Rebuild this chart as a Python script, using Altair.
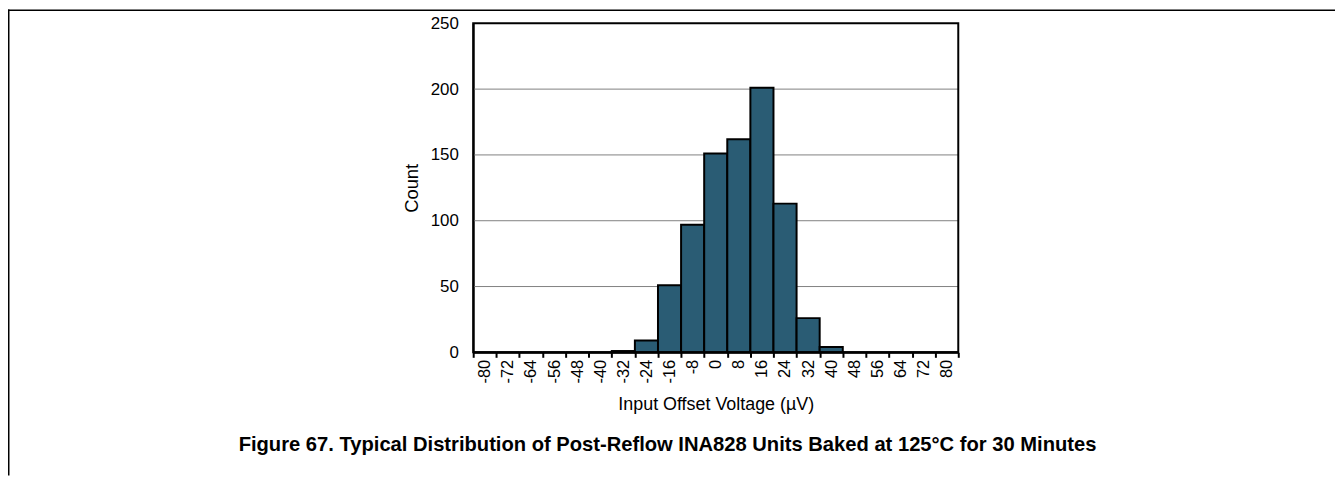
import altair as alt
import pandas as pd

# ---- data ----
bins = [-80, -72, -64, -56, -48, -40, -32, -24, -16, -8, 0, 8, 16, 24, 32, 40, 48, 56, 64, 72, 80]
counts = [0, 0, 0, 0, 0, 0, 1, 9, 51, 97, 151, 162, 201, 113, 26, 4, 0, 0, 0, 0, 0]
grid_values = [50, 100, 150, 200]
y_ticks = [0, 50, 100, 150, 200, 250]

x_title = "Input Offset Voltage (µV)"
y_title = "Count"
caption = "Figure 67. Typical Distribution of Post-Reflow INA828 Units Baked at 125°C for 30 Minutes"

labels = [str(b) for b in bins]
df = pd.DataFrame({"bin": labels, "count": counts})
grid_df = pd.DataFrame({"g": grid_values})
cap_df = pd.DataFrame({"t": [caption]})
one = pd.DataFrame({"d": [0]})

FONT = "Liberation Sans"
BAR = "#2a5c74"

W, H = 488, 331
PAD_L, PAD_T = 468, 14
TOTAL_W, TOTAL_H = 1335, 469

y_scale = alt.Scale(domain=[0, 250], nice=False)

bars = alt.Chart(df).mark_bar(
    color=BAR, stroke="black", strokeWidth=2
).encode(
    x=alt.X(
        "bin:N",
        sort=labels,
        scale=alt.Scale(paddingInner=0, paddingOuter=0),
        axis=alt.Axis(
            title=x_title,
            labelAngle=-90,
            tickBand="extent",
            tickSize=5,
            tickColor="black",
            tickWidth=2,
            domainColor="black",
            domainWidth=2,
            labelPadding=2,
            labelFontSize=16.5,
            labelFont=FONT,
            labelColor="black",
            titleFont=FONT,
            titleFontSize=18,
            titleFontWeight="normal",
            titleColor="black",
            titlePadding=13,
            grid=False,
        ),
    ),
    y=alt.Y(
        "count:Q",
        scale=y_scale,
        axis=alt.Axis(
            title=y_title,
            values=y_ticks,
            ticks=False,
            grid=False,
            domainColor="black",
            domainWidth=2,
            labelPadding=15,
            labelFontSize=17,
            labelFont=FONT,
            labelColor="black",
            titleFont=FONT,
            titleFontSize=18.5,
            titleFontWeight="normal",
            titleColor="black",
            titlePadding=9,
        ),
    ),
)

grid = alt.Chart(grid_df).mark_rule(color="#808080", strokeWidth=1).encode(
    y=alt.Y("g:Q", scale=y_scale)
)

frame_left = alt.Chart(one).mark_rule(color="black", strokeWidth=1.5).encode(
    x=alt.value(-PAD_L + 0.75), y=alt.value(-PAD_T), y2=alt.value(TOTAL_H - PAD_T)
)
frame_top = alt.Chart(one).mark_rule(color="black", strokeWidth=1.5).encode(
    x=alt.value(-PAD_L), x2=alt.value(TOTAL_W - PAD_L), y=alt.value(-PAD_T + 0.75)
)
frame_box = alt.Chart(one).mark_rect(fill=None, stroke="black", strokeWidth=2).encode(
    x=alt.value(0), x2=alt.value(W), y=alt.value(0), y2=alt.value(H)
)

cap = alt.Chart(cap_df).mark_text(
    font=FONT, fontSize=20.3, fontWeight="bold", color="black", align="center", baseline="middle"
).encode(
    text="t:N",
    x=alt.value(671.5 - 8 - PAD_L),
    y=alt.value(446 - 8 - PAD_T),
)

chart = alt.layer(grid, bars, frame_box, frame_left, frame_top, cap).properties(
    width=W,
    height=H,
    padding={"left": PAD_L, "top": PAD_T, "right": TOTAL_W - PAD_L - W, "bottom": TOTAL_H - PAD_T - H},
    autosize=alt.AutoSizeParams(type="none"),
    background="white",
).configure_view(
    stroke=None
)

chart.save("out.html", embed_options={"renderer": "svg", "actions": False})
